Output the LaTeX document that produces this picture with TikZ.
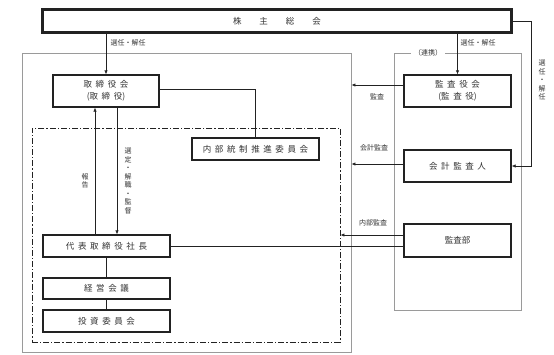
\documentclass[tikz,border=0pt]{standalone}
\usepackage{fontspec}
\newfontfamily\jpfont{Noto Sans CJK JP}
\usetikzlibrary{arrows.meta,positioning,calc}
\definecolor{OrgLine}{HTML}{222222}
\definecolor{OrgText}{HTML}{333333}
\definecolor{OrgGrey}{HTML}{9A9A9A}
\newcommand{\jgap}{\hspace{3.6pt}}

\begin{document}
\begin{tikzpicture}[
    x=1pt, y=-1pt,
    unit/.style={
      draw=OrgLine,
      line width=1.1pt,
      fill=white,
      inner sep=0pt,
      align=center,
      text=OrgText,
      font=\jpfont\fontsize{8.5}{12.5}\selectfont
    },
    area/.style={
      draw=OrgGrey,
      line width=0.7pt,
      inner sep=0pt
    },
    frame/.style={
      draw=OrgLine,
      line width=0.7pt,
      dash pattern=on 6pt off 2pt on 1.2pt off 2pt,
      inner sep=0pt
    },
    lbl/.style={
      text=OrgText,
      inner sep=1pt,
      font=\jpfont\fontsize{7}{8.5}\selectfont
    },
    vlbl/.style={
      text=OrgText,
      inner sep=0pt,
      align=center,
      font=\jpfont\fontsize{7}{8.5}\selectfont
    },
    link/.style={
      line width=0.6pt,
      color=OrgLine
    },
    arr/.style={
      link,
      -{Latex[length=4pt,width=3.2pt]}
    }
  ]
  \useasboundingbox (0,0) rectangle (554,354);

  % Areas
  \node[area, minimum width=329pt, minimum height=299pt] (exec) at (186.5,202.5) {};
  \node[frame, minimum width=308pt, minimum height=214pt] (ops) at (186,235) {};
  \node[area, minimum width=127pt, minimum height=257pt] (audit) at (457.5,181.5) {};
  \node[lbl, fill=white, inner sep=3pt] (renkei) at (428,53) {（連携）};

  % General meeting
  \node[unit, line width=1.3pt, minimum width=470pt, minimum height=24pt] (gm) at (277,21)
    {株\hspace{18pt}主\hspace{18pt}総\hspace{18pt}会};
  \draw[link] ([shift={(2pt,-2pt)}]gm.north west) rectangle ([shift={(-2pt,2pt)}]gm.south east);

  % Board side
  \node[unit, minimum width=106pt, minimum height=32pt] (board) at (106,91)
    {取\jgap{}締\jgap{}役\jgap{}会\\(取\jgap{}締\jgap{}役)};
  \node[unit, minimum width=127pt, minimum height=22pt] (icc) at (255.5,149)
    {内\jgap{}部\jgap{}統\jgap{}制\jgap{}推\jgap{}進\jgap{}委\jgap{}員\jgap{}会};
  \node[unit, minimum width=127pt, minimum height=22pt] (ceo) at (106.5,246)
    {代\jgap{}表\jgap{}取\jgap{}締\jgap{}役\jgap{}社\jgap{}長};
  \node[unit, minimum width=127pt, minimum height=21pt] (mgmt) at (106.5,288.5)
    {経\jgap{}営\jgap{}会\jgap{}議};
  \node[unit, minimum width=127pt, minimum height=22pt] (invest) at (106.5,321)
    {投\jgap{}資\jgap{}委\jgap{}員\jgap{}会};

  % Audit side
  \node[unit, minimum width=107pt, minimum height=32pt] (kab) at (457.5,91)
    {監\jgap{}査\jgap{}役\jgap{}会\\(監\jgap{}査\jgap{}役)};
  \node[unit, minimum width=107pt, minimum height=32pt] (acct) at (457.5,166)
    {会\jgap{}計\jgap{}監\jgap{}査\jgap{}人};
  \node[unit, minimum width=107pt, minimum height=33pt] (iad) at (457.5,240.5)
    {監査部};

  % Appointment
  \coordinate (rside) at (531,166);
  \draw[arr] (gm.south -| board.north) -- (board.north);
  \draw[arr] (gm.south -| kab.north) -- (kab.north);
  \draw[arr] (gm.east) -| (rside) -- (acct.east);

  % Board and president
  \draw[link] ([yshift=2pt]board.east) -| (icc.north);
  \draw[arr] ([xshift=-11pt]board.south |- ceo.north) -- ([xshift=-11pt]board.south);
  \draw[arr] ([xshift=11pt]board.south) -- ([xshift=11pt]board.south |- ceo.north);
  \draw[link] (ceo.south) -- (mgmt.north);
  \draw[link] (mgmt.south) -- (invest.north);

  % Audits
  \draw[arr] ([yshift=6pt]kab.west) -- ([yshift=6pt]kab.west -| exec.east);
  \draw[arr] ([yshift=2pt]acct.west) -- ([yshift=2pt]acct.west -| exec.east);
  \draw[arr] ([yshift=5.5pt]iad.west) -- ([yshift=5.5pt]iad.west -| ops.east);
  \draw[link] (ceo.east) -- (ceo.east -| iad.west);

  % Labels
  \node[lbl] (l_gm1) at (128,43) {選任・解任};
  \node[lbl] (l_gm2) at (478,43) {選任・解任};
  \node[vlbl] (l_gm3) at (542,80) {選\\任\\・\\解\\任};
  \node[vlbl] (l_rep) at (85,181) {報\\告};
  \node[vlbl] (l_sup) at (128,181) {選\\定\\・\\解\\職\\・\\監\\督};
  \node[lbl] (l_kab) at (377,97) {監査};
  \node[lbl] (l_acct) at (374,148) {会計監査};
  \node[lbl] (l_iad) at (373,223) {内部監査};

\end{tikzpicture}
\end{document}
